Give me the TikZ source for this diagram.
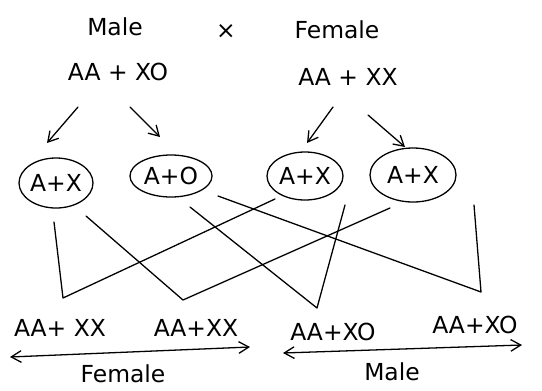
\documentclass[tikz,border=0pt]{standalone}
\usepackage{fontspec}
\setmainfont{DejaVu Sans}
\usetikzlibrary{shapes.geometric,arrows.meta}

\tikzset{
  gamete/.style={draw,ellipse,inner sep=0pt,line width=1.1pt,font=\fontsize{20}{24}\selectfont},
  txt/.style={font=\fontsize{20}{24}\selectfont},
  hand/.style={line width=1.1pt,line cap=round,line join=round},
  barb/.style={hand,-{Straight Barb[length=3mm,width=3.5mm]}},
  twoway/.style={hand,{Straight Barb[length=3mm,width=3.5mm]}-{Straight Barb[length=3mm,width=3.5mm]}}
}

\begin{document}
\begin{tikzpicture}[x=0.03cm,y=-0.03cm]
\useasboundingbox (0,0) rectangle (542,390);

% parents
\node[txt] (male) at (115,27) {Male};
\node[txt] (cross) at (226,32) {×};
\node[txt] (female) at (337,30) {Female};
\node[txt] (pm) at (118,72) {AA + XO};
\node[txt] (pf) at (348,77) {AA + XX};

% gametes
\node[gamete,minimum width=2.22cm,minimum height=1.5cm] (g1) at (56,183) {A+X};
\node[gamete,minimum width=2.46cm,minimum height=1.26cm] (g2) at (171,176) {A+O};
\node[gamete,minimum width=2.28cm,minimum height=1.44cm] (g3) at (305,176) {A+X};
\node[gamete,minimum width=2.58cm,minimum height=1.62cm] (g4) at (413,175) {A+X};

\coordinate (a1) at (78,107);  \coordinate (b1) at (47,143);
\coordinate (a2) at (130,107); \coordinate (b2) at (160,137);
\coordinate (a3) at (333,107); \coordinate (b3) at (307,143);
\coordinate (a4) at (368,115); \coordinate (b4) at (405,147);
\draw[barb] (a1) -- (b1);
\draw[barb] (a2) -- (b2);
\draw[barb] (a3) -- (b3);
\draw[barb] (a4) -- (b4);

% crossing lines
\coordinate (s1) at (54,222);  \coordinate (t1) at (275,199);
\coordinate (s2) at (86,216);  \coordinate (t2) at (390,208);
\coordinate (s3) at (190,207); \coordinate (t3) at (345,205);
\coordinate (s4) at (218,196); \coordinate (t4) at (474,205);
\coordinate (v1) at (63,298);
\coordinate (v2) at (183,300);
\coordinate (v3) at (317,308);
\coordinate (v4) at (481,292);
\draw[hand] (s1) -- (v1) -- (t1);
\draw[hand] (s2) -- (v2) -- (t2);
\draw[hand] (s3) -- (v3) -- (t3);
\draw[hand] (s4) -- (v4) -- (t4);

% offspring
\node[txt] (o1) at (60,328) {AA+ XX};
\node[txt] (o2) at (196,328) {AA+XX};
\node[txt] (o3) at (333,332) {AA+XO};
\node[txt] (o4) at (475,325) {AA+XO};

\coordinate (fl) at (10,357); \coordinate (fr) at (250,347);
\coordinate (ml) at (283,353); \coordinate (mr) at (522,345);
\draw[twoway] (fl) -- (fr);
\draw[twoway] (ml) -- (mr);
\node[txt] (fem) at (123,374) {Female};
\node[txt] (mal) at (392,372) {Male};
\end{tikzpicture}
\end{document}
